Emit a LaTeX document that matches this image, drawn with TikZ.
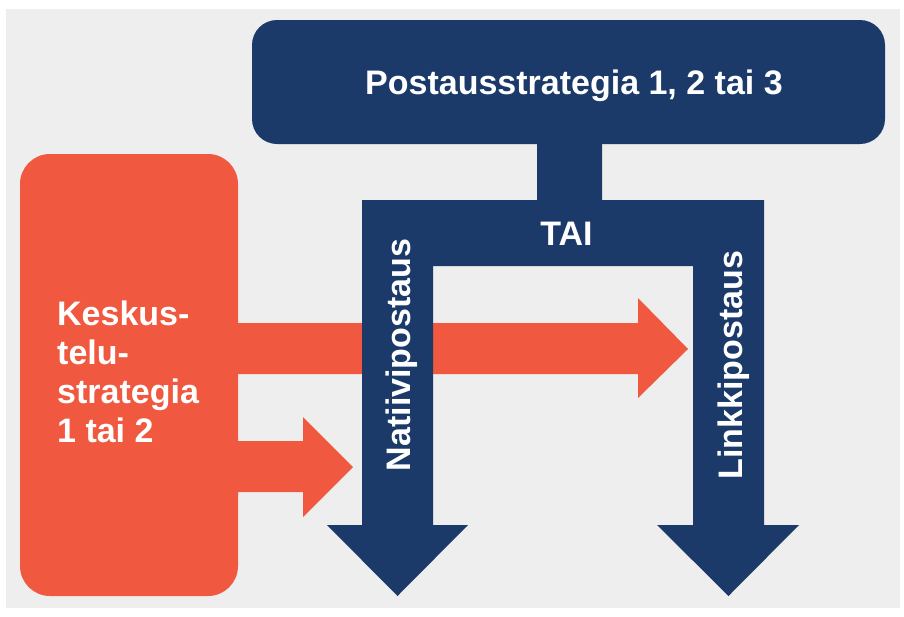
\documentclass[tikz,border=0pt]{standalone}
\usepackage{fontspec}
\setmainfont{Liberation Sans}
\definecolor{navy}{HTML}{1B3A6A}
\definecolor{coral}{HTML}{F0583F}
\definecolor{bggray}{HTML}{EEEEEE}
\begin{document}
\begin{tikzpicture}[x=1pt,y=-1pt,
  boxstyle/.style={draw=none,inner sep=0pt,outer sep=0pt},
  wtext/.style={text=white,font=\bfseries\fontsize{34}{40}\selectfont,inner sep=0pt},
  ltext/.style={text=white,font=\bfseries\fontsize{34}{38.7}\selectfont,inner sep=0pt,align=left}]
\useasboundingbox (0,0) rectangle (904,616);
\fill[white] (0,0) rectangle (904,616);
\fill[bggray] (6,9) rectangle (900,608);
% orange box
\node[boxstyle,fill=coral,rounded corners=30pt,minimum width=218pt,minimum height=442pt] (kesk) at (129,375) {};
% orange arrows
\fill[coral] (230,323) -- (638,323) -- (638,298) -- (688,349) -- (638,398) -- (638,374) -- (230,374) -- cycle;
\fill[coral] (230,441) -- (303,441) -- (303,417) -- (353,467) -- (303,517) -- (303,492) -- (230,492) -- cycle;
% blue fork
\fill[navy] (537,130) -- (602,130) -- (602,200) -- (764,200) -- (764,525) -- (799,525) -- (728.5,596) -- (657,525) -- (693,525) -- (693,266) -- (433,266) -- (433,525) -- (468,525) -- (397.5,596) -- (327,525) -- (362,525) -- (362,200) -- (537,200) -- cycle;
% top box
\node[boxstyle,fill=navy,rounded corners=25pt,minimum width=633pt,minimum height=124pt] (post) at (568.5,82) {};
% texts
\node[wtext,anchor=base] (title) at (574,94) {Postausstrategia 1, 2 tai 3};
\node[wtext,anchor=base] (tai) at (566.5,245) {TAI};
\node[wtext,anchor=base,rotate=90] (nat) at (410,355) {Natiivipostaus};
\node[wtext,anchor=base,rotate=90] (link) at (742,365) {Linkkipostaus};
\node[ltext,anchor=base west] (ktext) at (57,442) {Keskus-\\telu-\\strategia\\1 tai 2};
\end{tikzpicture}
\end{document}
